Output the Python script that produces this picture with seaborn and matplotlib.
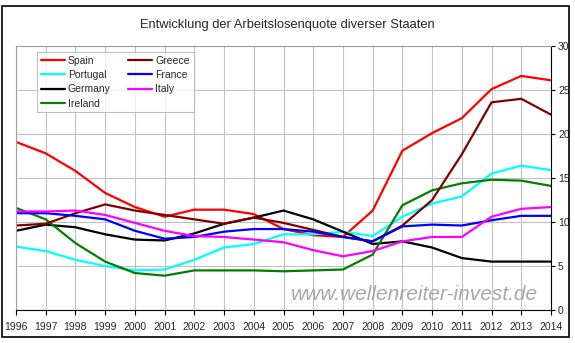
import numpy as np
import pandas as pd
import matplotlib
matplotlib.use("Agg")
import matplotlib.pyplot as plt
import seaborn as sns
from matplotlib.patches import Rectangle
from matplotlib.lines import Line2D

years = list(range(1996, 2015))
spain    = [19.1, 17.8, 15.8, 13.3, 11.7, 10.6, 11.4, 11.4, 10.9, 9.2, 8.5, 8.3, 11.3, 18.1, 20.1, 21.8, 25.1, 26.6, 26.1]
greece   = [9.6, 9.8, 11.0, 12.0, 11.3, 10.8, 10.3, 9.8, 10.5, 9.9, 9.1, 8.3, 7.8, 9.6, 12.5, 17.7, 23.6, 24.0, 22.2]
portugal = [7.2, 6.7, 5.7, 5.0, 4.5, 4.6, 5.7, 7.1, 7.5, 8.6, 8.6, 8.9, 8.4, 10.6, 12.1, 12.9, 15.5, 16.4, 15.9]
france   = [11.0, 11.0, 10.7, 10.3, 9.0, 8.1, 8.3, 8.9, 9.2, 9.2, 8.9, 8.3, 7.8, 9.5, 9.7, 9.6, 10.2, 10.7, 10.7]
germany  = [9.0, 9.7, 9.4, 8.6, 8.0, 7.9, 8.7, 9.8, 10.5, 11.3, 10.3, 8.9, 7.5, 7.8, 7.1, 5.9, 5.5, 5.5, 5.5]
italy    = [11.2, 11.2, 11.3, 10.8, 9.9, 9.0, 8.4, 8.3, 8.0, 7.7, 6.8, 6.1, 6.7, 7.8, 8.3, 8.3, 10.6, 11.5, 11.7]
ireland  = [11.6, 10.3, 7.6, 5.5, 4.2, 3.9, 4.5, 4.5, 4.5, 4.4, 4.5, 4.6, 6.3, 11.9, 13.6, 14.4, 14.8, 14.7, 14.1]

countries = ["Spain", "Portugal", "Germany", "Ireland", "Greece", "France", "Italy"]
series = {"Spain": spain, "Greece": greece, "Portugal": portugal, "France": france,
          "Germany": germany, "Italy": italy, "Ireland": ireland}
colors = {"Spain": "#ff0000", "Greece": "#800000", "Portugal": "#00ffff", "France": "#0000ff",
          "Germany": "#000000", "Italy": "#ff00ff", "Ireland": "#008000"}
yticks = [0, 5, 10, 15, 20, 25, 30]
title = "Entwicklung der Arbeitslosenquote diverser Staaten"
watermark = "www.wellenreiter-invest.de"

rows = []
for c in countries:
    for y, v in zip(years, series[c]):
        rows.append({"Year": y, "Rate": v, "Country": c})
df = pd.DataFrame(rows)

sns.set_theme(style="white")
plt.rcParams["font.family"] = ["Liberation Sans", "DejaVu Sans"]

fig = plt.figure(figsize=(5.75, 3.43), dpi=100)
ax = fig.add_axes([16/575, 1-310/343, 535/575, 264/343])

sns.lineplot(data=df, x="Year", y="Rate", hue="Country", hue_order=countries,
             palette=colors, linewidth=1.6, ax=ax, legend=False, estimator=None)

ax.set_xlim(1996, 2014)
ax.set_ylim(0, 30)
ax.set_xticks(years)
ax.set_xticklabels([str(y) for y in years])
ax.set_yticks(yticks)
ax.yaxis.tick_right()
ax.grid(True, color="#c0c0c0", linewidth=0.8)
ax.set_axisbelow(True)
ax.set_xlabel("")
ax.set_ylabel("")
for s in ["top", "left"]:
    ax.spines[s].set_color("#a0a0a0")
    ax.spines[s].set_linewidth(0.8)
for s in ["bottom", "right"]:
    ax.spines[s].set_color("black")
    ax.spines[s].set_linewidth(0.8)
ax.tick_params(axis="x", direction="out", length=3.5, width=0.8, color="black",
               labelsize=7.5, pad=5, bottom=True)
ax.tick_params(axis="y", direction="out", length=3, width=0.8, color="black",
               labelsize=7.5, pad=2, right=True, left=False)

handles = [Line2D([0], [0], color=colors[c], lw=1.6) for c in countries]
leg = ax.legend(handles, countries, ncol=2, loc="upper left",
                bbox_to_anchor=((37-16)/535, 1-(52-46)/264), frameon=True,
                fancybox=False, edgecolor="#b0b0b0", fontsize=7.5,
                handlelength=2.3, handletextpad=0.3, columnspacing=1.7,
                labelspacing=0.42, borderpad=0.35, borderaxespad=0)
leg.get_frame().set_linewidth(0.8)

fig.text(287/575, 1-25/343, title, ha="center", va="center", fontsize=9.3)
fig.text(415/575, 1-295/343, watermark, ha="center", va="center", fontsize=15,
         style="italic", color="#a8a8a8")

fig.patches.append(Rectangle((2/575, 1-337/343), 567/575, 331/343, transform=fig.transFigure,
                             fill=False, edgecolor="black", linewidth=1.2))

fig.savefig("out.png", dpi=100, facecolor="white")
